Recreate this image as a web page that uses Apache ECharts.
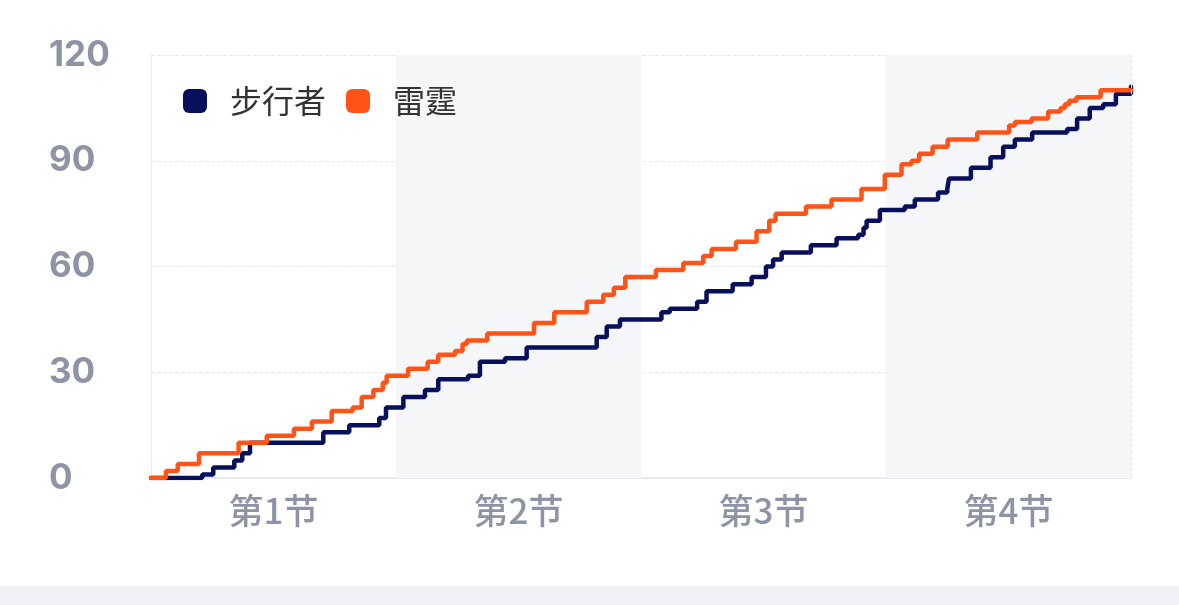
<!DOCTYPE html>
<html>
<head>
<meta charset="utf-8">
<script src="https://cdn.jsdelivr.net/npm/echarts@6/dist/echarts.min.js"></script>
<style>
  html, body { margin: 0; padding: 0; background: #fff; }
  #chart { width: 1179px; height: 586px; }
  #strip { width: 1179px; height: 19px; background: #f0f1f5; }
</style>
</head>
<body>
<div id="chart"></div>
<div id="strip"></div>
<script>
const quarterLabels = ['第1节', '第2节', '第3节', '第4节'];
const teamNames = ['步行者', '雷霆'];

// minute of the game when the score changed, and the new score
const pacersMin = [0, 2.51, 3.05, 4.08, 4.47, 4.85, 8.44, 9.71, 11.18, 11.51, 12.36, 13.42, 14.07, 15.53, 16.11,
  17.34, 18.4, 21.83, 22.32, 22.97, 25.0, 25.41, 26.75, 27.21, 28.49, 29.42, 30.12, 30.47, 30.89, 32.32,
  33.58, 34.64, 34.9, 35.05, 35.7, 36.92, 37.41, 38.55, 39.0, 39.09, 40.16, 41.12, 41.74, 42.31, 43.16,
  44.87, 45.36, 45.98, 46.64, 47.26, 48];
const pacersPts = [0, 1, 3, 5, 7, 10, 13, 15, 17, 20, 23, 25, 28, 29, 33,
  34, 37, 40, 43, 45, 47, 48, 50, 53, 55, 57, 60, 62, 64, 66,
  68, 69, 71, 73, 76, 77, 79, 81, 82, 85, 88, 91, 94, 96, 98,
  99, 102, 105, 106, 109, 111];

const thunderMin = [0, 0.73, 1.31, 2.35, 4.29, 5.67, 7.0, 7.88, 8.85, 9.88, 10.32, 10.89, 11.35, 11.54, 12.59,
  13.55, 14.07, 14.89, 15.26, 15.47, 16.47, 18.76, 19.75, 21.34, 22.15, 22.67, 23.23, 24.73, 26.07, 27.05,
  27.46, 28.65, 29.66, 30.28, 30.59, 32.08, 33.33, 34.80, 35.94, 36.76, 37.25, 37.62, 38.28, 39.02, 40.47,
  42.03, 42.31, 43.13, 43.94, 44.55, 44.76, 44.97, 45.33, 46.51, 48];
const thunderPts = [0, 2, 4, 7, 10, 12, 14, 16, 19, 20, 23, 25, 27, 29, 31,
  33, 35, 36, 38, 39, 41, 44, 47, 50, 52, 54, 57, 59, 61, 63,
  65, 67, 70, 73, 75, 77, 79, 82, 86, 89, 90, 92, 94, 96, 98,
  100, 101, 102, 104, 105, 106, 107, 108, 110, 110];

function zip(xs, ys) {
  return xs.map(function (x, i) { return [x, ys[i]]; });
}

const chartDom = document.getElementById('chart');
const myChart = echarts.init(chartDom);

const gray = '#8e94a5';
const lineGray = '#e8eaf0';

let option = {
  animation: false,
  color: ['#080f5b', '#ff5317'],
  legend: {
    left: 178,
    top: 80,
    itemWidth: 24,
    itemHeight: 24,
    itemGap: 20,
    icon: 'roundRect',
    textStyle: { fontSize: 32, color: '#333', fontFamily: 'Noto Sans CJK SC', padding: [0, 0, 0, 18] },
    data: teamNames
  },
  grid: { left: 151, right: 48, top: 55, bottom: 108, containLabel: false },
  xAxis: {
    type: 'value',
    min: 0,
    max: 48,
    interval: 6,
    axisLine: { show: true, lineStyle: { color: lineGray, width: 2 } },
    axisTick: { show: false },
    splitLine: { show: false },
    axisLabel: {
      color: gray,
      fontSize: 35,
      fontWeight: 500,
      fontFamily: 'Noto Sans CJK SC',
      margin: 15,
      showMinLabel: true,
      showMaxLabel: true,
      formatter: function (v) {
        if (v % 12 === 6) return quarterLabels[(v - 6) / 12];
        return '';
      }
    }
  },
  yAxis: {
    type: 'value',
    min: 0,
    max: 120,
    interval: 30,
    axisLine: { show: true, lineStyle: { color: lineGray, width: 1 } },
    axisTick: { show: false },
    splitLine: { show: true, lineStyle: { color: '#e6e8ee', type: 'dashed', width: 1 } },
    axisLabel: {
      color: gray,
      fontSize: 35,
      fontWeight: 'bold',
      fontFamily: 'Inter',
      align: 'left',
      margin: 102
    }
  },
  series: [
    {
      name: teamNames[0],
      type: 'line',
      step: 'end',
      showSymbol: false,
      data: zip(pacersMin, pacersPts),
      lineStyle: { width: 4.5, cap: 'round' },
      markArea: {
        silent: true,
        itemStyle: { color: '#f5f6f8' },
        data: [
          [{ xAxis: 12 }, { xAxis: 24 }],
          [{ xAxis: 36 }, { xAxis: 48 }]
        ]
      },
      markLine: {
        silent: true,
        symbol: 'none',
        label: { show: false },
        lineStyle: { color: '#e6e8ee', type: 'dashed', width: 1 },
        data: [{ xAxis: 48 }]
      },
      z: 2
    },
    {
      name: teamNames[1],
      type: 'line',
      step: 'end',
      showSymbol: false,
      data: zip(thunderMin, thunderPts),
      lineStyle: { width: 4.5, cap: 'round' },
      z: 3
    }
  ]
};
myChart.setOption(option);
</script>
</body>
</html>
